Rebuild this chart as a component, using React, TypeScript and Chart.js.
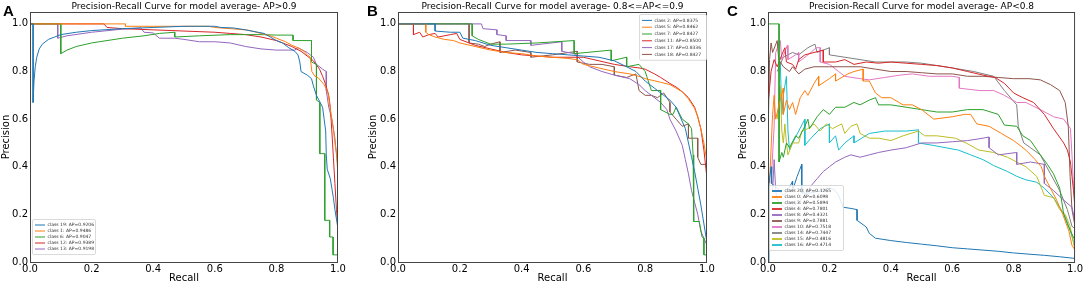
import React, { useEffect, useRef } from 'react';
import { Chart, registerables } from 'chart.js';

Chart.register(...registerables);

type Pt = [number, number];

const COLORS = ['#1f77b4', '#ff7f0e', '#2ca02c', '#d62728', '#9467bd', '#8c564b', '#e377c2', '#7f7f7f', '#bcbd22', '#17becf'];

const xTicks = [0, 0.2, 0.4, 0.6, 0.8, 1.0];
const yTicks = [0, 0.2, 0.4, 0.6, 0.8, 1.0];

// ---------- Panel A (AP > 0.9) ----------
const titleA = 'Precision-Recall Curve for model average- AP>0.9';
const labelsA = ['class 19: AP=0.9206', 'class 1: AP=0.9486', 'class 6: AP=0.9047', 'class 12: AP=0.9389', 'class 13: AP=0.9198'];
const a19: Pt[] = [[0,1],[0.01,1],[0.01,0.67],[0.013,0.76],[0.017,0.82],[0.022,0.86],[0.03,0.895],[0.04,0.915],[0.06,0.935],[0.08,0.945],[0.1,0.955],[0.15,0.965],[0.2,0.972],[0.3,0.98],[0.4,0.985],[0.5,0.99],[0.6,0.99],[0.62,0.985],[0.66,0.983],[0.7,0.975],[0.74,0.965],[0.76,0.96],[0.78,0.945],[0.8,0.93],[0.82,0.92],[0.84,0.9],[0.86,0.885],[0.87,0.87],[0.876,0.84],[0.88,0.8],[0.9,0.785],[0.914,0.77],[0.92,0.74],[0.93,0.7],[0.94,0.675],[0.95,0.65],[0.955,0.6],[0.96,0.55],[0.962,0.45],[0.965,0.39],[0.975,0.35],[0.98,0.31],[0.985,0.27],[0.99,0.22],[0.995,0.18],[1.0,0.14]];
const a1: Pt[] = [[0,1],[0.31,1],[0.31,0.99],[0.45,0.99],[0.58,0.99],[0.6,0.985],[0.65,0.98],[0.7,0.975],[0.72,0.97],[0.75,0.96],[0.78,0.95],[0.8,0.94],[0.83,0.925],[0.85,0.91],[0.87,0.9],[0.89,0.885],[0.9,0.87],[0.91,0.86],[0.915,0.8],[0.925,0.78],[0.935,0.775],[0.945,0.76],[0.955,0.745],[0.965,0.72],[0.97,0.69],[0.975,0.64],[0.98,0.6],[0.985,0.56],[0.99,0.5],[0.995,0.46],[0.998,0.4],[1.0,0.37]];
const a6: Pt[] = [[0,1],[0.1,1],[0.1,0.875],[0.12,0.89],[0.15,0.905],[0.2,0.92],[0.25,0.93],[0.3,0.94],[0.37,0.95],[0.42,0.96],[0.47,0.965],[0.47,0.945],[0.55,0.95],[0.65,0.955],[0.7,0.955],[0.75,0.955],[0.8,0.953],[0.854,0.953],[0.854,0.93],[0.914,0.93],[0.914,0.84],[0.93,0.83],[0.93,0.68],[0.941,0.67],[0.941,0.455],[0.957,0.455],[0.957,0.175],[0.973,0.175],[0.973,0.105],[0.984,0.105],[0.984,0.03],[1.0,0.03]];
const a12: Pt[] = [[0,1],[0.24,1],[0.25,0.985],[0.3,0.98],[0.4,0.975],[0.5,0.97],[0.6,0.965],[0.65,0.96],[0.7,0.955],[0.75,0.945],[0.8,0.93],[0.85,0.905],[0.88,0.885],[0.9,0.865],[0.92,0.845],[0.94,0.81],[0.95,0.78],[0.96,0.745],[0.97,0.7],[0.975,0.65],[0.98,0.55],[0.985,0.44],[0.99,0.33],[0.995,0.22],[1.0,0.14]];
const a13: Pt[] = [[0,1],[0.09,1],[0.09,0.94],[0.12,0.95],[0.2,0.965],[0.3,0.978],[0.36,0.983],[0.37,0.965],[0.4,0.962],[0.42,0.94],[0.47,0.94],[0.5,0.935],[0.55,0.925],[0.6,0.925],[0.65,0.92],[0.7,0.905],[0.75,0.895],[0.8,0.89],[0.84,0.89],[0.86,0.89],[0.87,0.9],[0.9,0.88],[0.92,0.86],[0.93,0.83],[0.95,0.81],[0.962,0.8],[0.962,0.72],[0.97,0.65],[0.98,0.6],[0.99,0.52],[0.995,0.45],[1.0,0.4],[1.0,0.07]];

// ---------- Panel B (0.8 <= AP <= 0.9) ----------
const titleB = 'Precision-Recall Curve for model average- 0.8<=AP<=0.9';
const labelsB = ['class 2: AP=0.8375', 'class 5: AP=0.8462', 'class 7: AP=0.8427', 'class 11: AP=0.8500', 'class 17: AP=0.8336', 'class 18: AP=0.8427'];
const b2: Pt[] = [[0,1],[0.12,1],[0.12,0.97],[0.17,0.965],[0.2,0.965],[0.21,0.94],[0.25,0.93],[0.3,0.91],[0.35,0.9],[0.4,0.89],[0.45,0.88],[0.5,0.875],[0.55,0.87],[0.6,0.865],[0.65,0.86],[0.7,0.845],[0.74,0.82],[0.77,0.8],[0.8,0.76],[0.83,0.73],[0.86,0.7],[0.88,0.68],[0.9,0.65],[0.91,0.62],[0.93,0.56],[0.94,0.5],[0.95,0.44],[0.96,0.38],[0.97,0.31],[0.98,0.24],[0.99,0.16],[1.0,0.08]];
const b5: Pt[] = [[0,1],[0.09,1],[0.09,0.965],[0.1,0.955],[0.12,0.945],[0.15,0.935],[0.18,0.93],[0.2,0.92],[0.25,0.905],[0.3,0.89],[0.35,0.88],[0.4,0.875],[0.45,0.865],[0.5,0.86],[0.55,0.855],[0.58,0.85],[0.6,0.83],[0.65,0.815],[0.7,0.8],[0.75,0.79],[0.78,0.78],[0.8,0.77],[0.85,0.755],[0.88,0.745],[0.9,0.73],[0.92,0.715],[0.94,0.685],[0.96,0.645],[0.97,0.61],[0.98,0.56],[0.99,0.5],[1.0,0.42]];
const b7: Pt[] = [[0,1],[0.24,1],[0.24,0.95],[0.26,0.935],[0.3,0.915],[0.35,0.915],[0.45,0.92],[0.57,0.93],[0.57,0.875],[0.65,0.885],[0.69,0.89],[0.69,0.845],[0.74,0.86],[0.74,0.82],[0.78,0.83],[0.8,0.8],[0.82,0.72],[0.85,0.72],[0.85,0.64],[0.88,0.62],[0.89,0.62],[0.9,0.65],[0.92,0.6],[0.94,0.58],[0.95,0.56],[0.955,0.45],[0.957,0.17],[0.975,0.17],[0.984,0.105],[0.99,0.1],[0.99,0.03],[1.0,0.03]];
const b11: Pt[] = [[0,1],[0.05,1],[0.05,0.955],[0.07,0.965],[0.08,0.945],[0.1,0.955],[0.12,0.96],[0.13,0.945],[0.17,0.955],[0.19,0.96],[0.2,0.935],[0.25,0.91],[0.3,0.895],[0.35,0.88],[0.4,0.87],[0.45,0.865],[0.5,0.86],[0.55,0.86],[0.6,0.86],[0.65,0.845],[0.7,0.83],[0.75,0.82],[0.78,0.815],[0.8,0.81],[0.83,0.79],[0.85,0.775],[0.88,0.75],[0.9,0.735],[0.92,0.715],[0.94,0.69],[0.96,0.65],[0.97,0.61],[0.98,0.56],[0.99,0.47],[1.0,0.35],[1.0,0.27]];
const b17: Pt[] = [[0,1],[0.27,1],[0.275,0.98],[0.32,0.975],[0.32,0.955],[0.35,0.95],[0.35,0.93],[0.43,0.93],[0.43,0.91],[0.53,0.925],[0.53,0.885],[0.57,0.875],[0.6,0.84],[0.62,0.82],[0.66,0.8],[0.7,0.785],[0.75,0.77],[0.78,0.745],[0.8,0.72],[0.82,0.7],[0.85,0.67],[0.87,0.64],[0.88,0.6],[0.9,0.55],[0.92,0.49],[0.93,0.43],[0.94,0.37],[0.95,0.3],[0.96,0.25],[0.97,0.2],[0.98,0.13],[0.99,0.1],[1.0,0.07]];
const b18: Pt[] = [[0,1],[0.23,1],[0.23,0.92],[0.26,0.915],[0.28,0.905],[0.3,0.915],[0.33,0.925],[0.33,0.88],[0.38,0.89],[0.43,0.88],[0.43,0.86],[0.5,0.87],[0.58,0.885],[0.58,0.84],[0.62,0.83],[0.66,0.83],[0.7,0.82],[0.7,0.785],[0.74,0.775],[0.77,0.79],[0.78,0.72],[0.8,0.7],[0.82,0.7],[0.84,0.69],[0.86,0.71],[0.88,0.67],[0.88,0.63],[0.9,0.6],[0.92,0.57],[0.94,0.58],[0.94,0.52],[0.97,0.52],[0.97,0.44],[0.98,0.41],[1.0,0.41]];

// ---------- Panel C (AP < 0.8) ----------
const titleC = 'Precision-Recall Curve for model average- AP<0.8';
const labelsC = ['class 20: AP=0.1265', 'class 0: AP=0.6098', 'class 3: AP=0.5894', 'class 4: AP=0.7801', 'class 8: AP=0.4321', 'class 9: AP=0.7881', 'class 10: AP=0.7518', 'class 14: AP=0.7447', 'class 15: AP=0.4816', 'class 16: AP=0.4714'];
const c20: Pt[] = [[0,0],[0.003,0.33],[0.01,0.4],[0.012,0.33],[0.03,0.31],[0.05,0.28],[0.065,0.3],[0.08,0.34],[0.08,0.3],[0.095,0.36],[0.11,0.41],[0.11,0.29],[0.14,0.29],[0.17,0.3],[0.2,0.31],[0.215,0.305],[0.23,0.28],[0.245,0.23],[0.27,0.225],[0.29,0.22],[0.29,0.175],[0.32,0.147],[0.33,0.12],[0.35,0.1],[0.4,0.09],[0.45,0.082],[0.5,0.075],[0.55,0.068],[0.6,0.06],[0.65,0.055],[0.7,0.05],[0.75,0.045],[0.8,0.038],[0.85,0.033],[0.9,0.028],[0.95,0.022],[1.0,0.015]];
const c0: Pt[] = [[0.005,0.33],[0.015,0.62],[0.02,0.7],[0.025,0.6],[0.04,0.68],[0.05,0.73],[0.05,0.62],[0.06,0.68],[0.07,0.64],[0.08,0.67],[0.09,0.62],[0.105,0.69],[0.12,0.72],[0.13,0.7],[0.15,0.75],[0.165,0.78],[0.165,0.74],[0.2,0.77],[0.22,0.79],[0.22,0.76],[0.26,0.79],[0.28,0.8],[0.31,0.81],[0.31,0.76],[0.33,0.76],[0.35,0.71],[0.37,0.69],[0.4,0.69],[0.44,0.66],[0.47,0.66],[0.5,0.64],[0.54,0.6],[0.6,0.61],[0.64,0.62],[0.66,0.62],[0.68,0.58],[0.72,0.57],[0.76,0.54],[0.8,0.51],[0.84,0.47],[0.87,0.43],[0.89,0.4],[0.9,0.36],[0.92,0.31],[0.94,0.26],[0.96,0.2],[0.98,0.13],[0.99,0.07],[1.0,0.05]];
const c3: Pt[] = [[0,1],[0.036,1],[0.036,0.42],[0.045,0.46],[0.05,0.44],[0.06,0.5],[0.07,0.48],[0.09,0.53],[0.1,0.52],[0.12,0.57],[0.13,0.6],[0.135,0.56],[0.16,0.61],[0.18,0.64],[0.2,0.62],[0.22,0.65],[0.25,0.65],[0.28,0.67],[0.3,0.66],[0.33,0.68],[0.35,0.69],[0.36,0.66],[0.4,0.66],[0.45,0.65],[0.5,0.64],[0.55,0.63],[0.6,0.63],[0.65,0.64],[0.7,0.64],[0.75,0.62],[0.77,0.575],[0.81,0.57],[0.83,0.53],[0.855,0.51],[0.887,0.45],[0.91,0.41],[0.93,0.37],[0.95,0.31],[0.963,0.2],[0.975,0.16],[0.985,0.13],[1.0,0.09]];
const c4: Pt[] = [[0,0.66],[0.005,0.73],[0.01,0.8],[0.02,0.85],[0.03,0.82],[0.045,0.87],[0.055,0.9],[0.06,0.84],[0.08,0.83],[0.09,0.81],[0.1,0.85],[0.12,0.87],[0.15,0.88],[0.18,0.89],[0.18,0.84],[0.22,0.84],[0.25,0.85],[0.28,0.83],[0.32,0.84],[0.36,0.835],[0.4,0.84],[0.45,0.835],[0.5,0.83],[0.55,0.825],[0.6,0.815],[0.65,0.8],[0.7,0.785],[0.74,0.775],[0.77,0.75],[0.8,0.71],[0.83,0.69],[0.865,0.67],[0.9,0.62],[0.93,0.56],[0.963,0.5],[0.975,0.47],[0.985,0.42],[0.99,0.36],[0.995,0.3],[1.0,0.22],[1.0,0.1]];
const c8: Pt[] = [[0.015,0.3],[0.02,0.43],[0.025,0.3],[0.03,0.26],[0.06,0.22],[0.1,0.25],[0.12,0.28],[0.14,0.32],[0.16,0.35],[0.18,0.38],[0.2,0.4],[0.22,0.42],[0.25,0.44],[0.27,0.45],[0.3,0.44],[0.33,0.45],[0.36,0.46],[0.4,0.47],[0.45,0.48],[0.5,0.5],[0.55,0.5],[0.6,0.505],[0.65,0.51],[0.7,0.52],[0.72,0.525],[0.72,0.48],[0.75,0.45],[0.81,0.46],[0.81,0.41],[0.855,0.42],[0.9,0.41],[0.9,0.33],[0.93,0.3],[0.963,0.26],[0.99,0.23],[1.0,0.17]];
const c9: Pt[] = [[0,0.5],[0.005,0.85],[0.01,0.92],[0.015,0.88],[0.03,0.93],[0.035,0.85],[0.05,0.82],[0.07,0.8],[0.08,0.82],[0.1,0.79],[0.12,0.81],[0.15,0.82],[0.2,0.82],[0.25,0.82],[0.3,0.82],[0.35,0.81],[0.4,0.8],[0.45,0.8],[0.5,0.795],[0.55,0.79],[0.6,0.79],[0.65,0.78],[0.7,0.78],[0.75,0.775],[0.8,0.77],[0.85,0.77],[0.887,0.765],[0.92,0.745],[0.95,0.72],[0.968,0.67],[0.978,0.57],[0.984,0.36],[0.99,0.22],[1.0,0.15]];
const c10: Pt[] = [[0.01,0.33],[0.02,0.57],[0.025,0.88],[0.04,0.93],[0.045,0.85],[0.063,0.91],[0.065,0.85],[0.09,0.87],[0.1,0.88],[0.1,0.84],[0.13,0.87],[0.158,0.9],[0.17,0.9],[0.17,0.84],[0.2,0.83],[0.23,0.8],[0.25,0.78],[0.3,0.77],[0.33,0.765],[0.38,0.775],[0.43,0.785],[0.47,0.79],[0.525,0.78],[0.6,0.78],[0.623,0.775],[0.623,0.73],[0.69,0.72],[0.735,0.72],[0.77,0.7],[0.81,0.67],[0.84,0.67],[0.887,0.64],[0.93,0.61],[0.963,0.6],[0.985,0.56],[0.99,0.45],[0.995,0.32],[1.0,0.25]];
const c14: Pt[] = [[0.03,0.8],[0.05,0.86],[0.08,0.88],[0.1,0.87],[0.13,0.9],[0.153,0.915],[0.16,0.88],[0.2,0.9],[0.2,0.87],[0.25,0.86],[0.3,0.85],[0.35,0.84],[0.4,0.84],[0.45,0.84],[0.5,0.835],[0.55,0.825],[0.6,0.815],[0.67,0.8],[0.735,0.78],[0.77,0.72],[0.81,0.66],[0.815,0.57],[0.833,0.5],[0.855,0.48],[0.887,0.45],[0.92,0.37],[0.95,0.3],[0.975,0.22],[0.99,0.15],[1.0,0.14]];
const c15: Pt[] = [[0.03,0.6],[0.04,0.74],[0.045,0.55],[0.05,0.5],[0.055,0.58],[0.06,0.5],[0.065,0.45],[0.08,0.5],[0.1,0.5],[0.11,0.55],[0.13,0.56],[0.15,0.58],[0.17,0.55],[0.19,0.58],[0.21,0.56],[0.24,0.58],[0.25,0.54],[0.27,0.57],[0.29,0.58],[0.3,0.54],[0.33,0.52],[0.36,0.52],[0.4,0.51],[0.44,0.53],[0.49,0.55],[0.51,0.53],[0.55,0.53],[0.61,0.52],[0.645,0.5],[0.687,0.47],[0.735,0.46],[0.78,0.44],[0.81,0.42],[0.84,0.4],[0.875,0.36],[0.9,0.28],[0.93,0.27],[0.95,0.22],[0.968,0.2],[0.984,0.15],[1.0,0.05]];
const c16: Pt[] = [[0.04,0.84],[0.045,0.62],[0.05,0.7],[0.06,0.78],[0.065,0.55],[0.07,0.47],[0.08,0.5],[0.1,0.55],[0.12,0.6],[0.12,0.49],[0.14,0.52],[0.17,0.56],[0.2,0.58],[0.2,0.5],[0.22,0.53],[0.23,0.47],[0.25,0.5],[0.28,0.53],[0.28,0.5],[0.33,0.54],[0.38,0.55],[0.41,0.55],[0.45,0.55],[0.49,0.555],[0.49,0.5],[0.537,0.49],[0.62,0.47],[0.66,0.45],[0.7,0.43],[0.735,0.405],[0.78,0.38],[0.81,0.36],[0.84,0.345],[0.875,0.335],[0.9,0.31],[0.93,0.27],[0.95,0.23],[0.968,0.19],[0.985,0.13],[1.0,0.06]];

const FONT = '"DejaVu Sans", "Liberation Sans", sans-serif';

interface LegendCfg {
  corner: 'bl' | 'tr';
  dx: number;
  dy: number;
  width: number;
  rowH: number;
  lineW: number;
}

interface PanelCfg {
  letter: string;
  title: string;
  labels: string[];
  series: Pt[][];
  left: number;
  width: number;
  padLeft: number;
  yWidth: number;
  padRight: number;
  letterX: number;
  legend: LegendCfg;
}

const panels: PanelCfg[] = [
  { letter: 'A', title: titleA, labels: labelsA, series: [a19, a1, a6, a12, a13], left: 0, width: 362, padLeft: 0, yWidth: 30, padRight: 24, letterX: 3,
    legend: { corner: 'bl', dx: 2, dy: 8, width: 63, rowH: 6, lineW: 1 } },
  { letter: 'B', title: titleB, labels: labelsB, series: [b2, b5, b7, b11, b17, b18], left: 362, width: 362, padLeft: 5, yWidth: 31, padRight: 17, letterX: 5,
    legend: { corner: 'tr', dx: 1, dy: 2, width: 67, rowH: 6.8, lineW: 1 } },
  { letter: 'C', title: titleC, labels: labelsC, series: [c20, c0, c3, c4, c8, c9, c10, c14, c15, c16], left: 724, width: 360, padLeft: 13, yWidth: 31, padRight: 8, letterX: 3,
    legend: { corner: 'bl', dx: 1, dy: 12, width: 74, rowH: 6, lineW: 1.8 } },
];

const decorPlugin = {
  id: 'decor',
  afterDatasetsDraw(chart: any, _args: any, opts: any) {
    const cfg: PanelCfg = opts.cfg;
    const { ctx, chartArea } = chart;
    const { left, right, top, bottom } = chartArea;
    ctx.save();
    // frame
    ctx.strokeStyle = '#444';
    ctx.lineWidth = 1;
    ctx.strokeRect(left + 0.5, top + 0.5, right - left - 1, bottom - top);
    // legend
    const lg = cfg.legend;
    const n = cfg.labels.length;
    const h = n * lg.rowH + 5;
    const bx = lg.corner === 'bl' ? left + lg.dx : right - lg.dx - lg.width;
    const by = lg.corner === 'bl' ? bottom - lg.dy - h : top + lg.dy;
    ctx.fillStyle = 'rgba(255,255,255,0.85)';
    ctx.strokeStyle = '#d0d0d0';
    ctx.lineWidth = 0.8;
    ctx.beginPath();
    if ((ctx as any).roundRect) (ctx as any).roundRect(bx + 0.5, by + 0.5, lg.width, h, 1.5);
    else ctx.rect(bx + 0.5, by + 0.5, lg.width, h);
    ctx.fill();
    ctx.stroke();
    ctx.font = `4.5px ${FONT}`;
    ctx.textBaseline = 'middle';
    ctx.textAlign = 'left';
    for (let i = 0; i < n; i++) {
      const yy = by + 3 + lg.rowH * (i + 0.5);
      ctx.strokeStyle = COLORS[i];
      ctx.lineWidth = lg.lineW;
      ctx.beginPath();
      ctx.moveTo(bx + 3, yy);
      ctx.lineTo(bx + 13, yy);
      ctx.stroke();
      ctx.fillStyle = '#333';
      ctx.fillText(cfg.labels[i], bx + 15.5, yy);
    }
    ctx.restore();
  },
  afterDraw(chart: any, _args: any, opts: any) {
    const cfg: PanelCfg = opts.cfg;
    const { ctx, chartArea } = chart;
    ctx.save();
    ctx.fillStyle = '#000';
    ctx.font = `9px ${FONT}`;
    ctx.textAlign = 'center';
    ctx.textBaseline = 'middle';
    ctx.fillText(cfg.title, (chartArea.left + chartArea.right) / 2, 6.5);
    ctx.font = 'bold 15px "Liberation Sans", Arial, sans-serif';
    ctx.textAlign = 'left';
    ctx.textBaseline = 'alphabetic';
    ctx.fillText(cfg.letter, cfg.letterX, 15.5);
    ctx.restore();
  },
};

function Panel({ cfg }: { cfg: PanelCfg }) {
  const ref = useRef<HTMLCanvasElement | null>(null);
  useEffect(() => {
    if (!ref.current) return;
    const tickFont = { family: FONT, size: 10 };
    const chart = new Chart(ref.current, {
      type: 'line',
      data: {
        datasets: cfg.series.map((s, i) => ({
          label: cfg.labels[i],
          data: s.map(([x, y]) => ({ x, y })),
          borderColor: COLORS[i],
          backgroundColor: COLORS[i],
          borderWidth: 1,
          pointRadius: 0,
          tension: 0,
          fill: false,
        })),
      },
      options: {
        animation: false,
        responsive: false,
        devicePixelRatio: 1,
        layout: { padding: { left: cfg.padLeft, right: cfg.padRight, top: 12, bottom: 0 } },
        plugins: {
          legend: { display: false },
          tooltip: { enabled: false },
          decor: { cfg },
        } as any,
        scales: {
          x: {
            type: 'linear',
            min: 0,
            max: 1,
            afterBuildTicks: (s: any) => { s.ticks = xTicks.map((v) => ({ value: v })); },
            afterFit: (s: any) => { s.height = 22; },
            grid: { display: false, drawTicks: false },
            border: { display: false },
            ticks: { font: tickFont, color: '#000', padding: 1, maxRotation: 0, autoSkip: false, callback: (v: any) => Number(v).toFixed(1) },
            title: { display: true, text: 'Recall', font: tickFont, color: '#000', padding: 0 },
          },
          y: {
            type: 'linear',
            min: 0,
            max: 1.05,
            afterBuildTicks: (s: any) => { s.ticks = yTicks.map((v) => ({ value: v })); },
            afterFit: (s: any) => { s.width = cfg.yWidth; },
            grid: { display: false, drawTicks: false },
            border: { display: false },
            ticks: { font: tickFont, color: '#000', padding: 2, autoSkip: false, callback: (v: any) => Number(v).toFixed(1) },
            title: { display: true, text: 'Precision', font: tickFont, color: '#000', padding: 0 },
          },
        },
      },
      plugins: [decorPlugin as any],
    });
    return () => chart.destroy();
  }, [cfg]);
  return (
    <canvas
      ref={ref}
      width={cfg.width}
      height={284}
      style={{ position: 'absolute', left: cfg.left, top: 0, width: cfg.width, height: 284 }}
    />
  );
}

export default function App() {
  useEffect(() => {
    document.body.style.margin = '0';
  }, []);
  return (
    <div style={{ position: 'absolute', left: 0, top: 0, width: 1084, height: 284, background: '#fff', overflow: 'hidden' }}>
      {panels.map((p) => (
        <Panel key={p.letter} cfg={p} />
      ))}
    </div>
  );
}
